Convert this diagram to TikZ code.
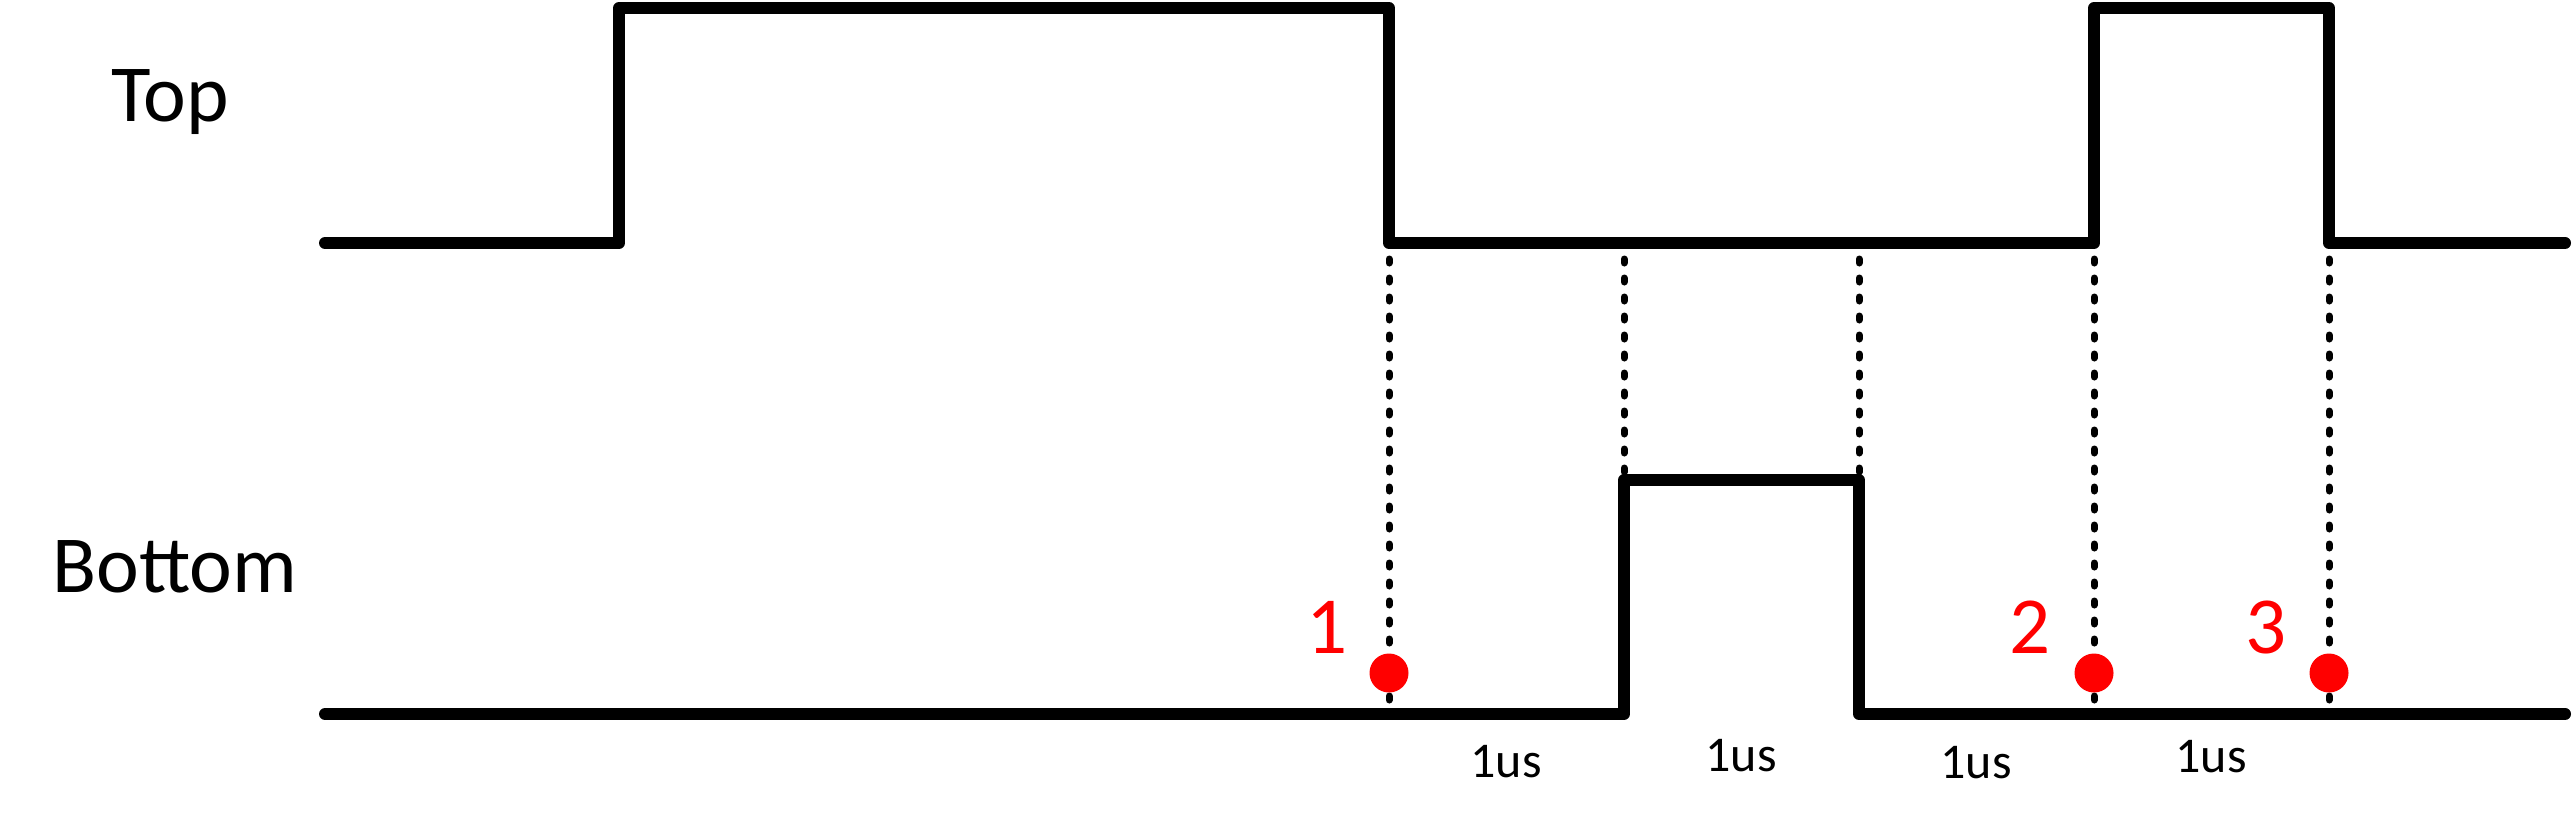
\documentclass[tikz,border=0pt]{standalone}
\usepackage{fontspec}
\setmainfont{Carlito}
\begin{document}
\begin{tikzpicture}[x=0.5pt,y=-0.5pt,
  wave/.style={line width=6pt, line join=round, line cap=round},
  guide/.style={line width=3.5pt, dash pattern=on 2pt off 7.5pt, line cap=round},
  sig/.style={anchor=base west, inner sep=0pt, font=\fontsize{40.5}{48}\selectfont},
  num/.style={anchor=base, inner sep=0pt, text=red, font=\fontsize{40.5}{48}\selectfont},
  dur/.style={anchor=base, inner sep=0pt, font=\fontsize{25}{30}\selectfont},
  mark dot/.style={circle, fill=red, inner sep=0pt, minimum size=19.5pt}
]
\useasboundingbox (0,0) rectangle (2575,819);
% labels
\node[sig] (top) at (111,121) {Top};
\node[sig] (bottom) at (52,592) {Bottom};
% top waveform
\coordinate (t0) at (325,243);
\coordinate (t1) at (1389,243);
\coordinate (t2) at (1624,243);
\coordinate (t3) at (1859,243);
\coordinate (t4) at (2094,243);
\coordinate (t5) at (2329,243);
\coordinate (t6) at (2565,243);
\draw[wave] (t0) -- (619,243) -- (619,8) -- (1389,8) -- (t1) -- (t2) -- (t3) -- (t4) -- (2094,8) -- (2329,8) -- (t5) -- (t6);
% bottom waveform
\coordinate (b0) at (325,714);
\coordinate (b1) at (1389,714);
\coordinate (b2) at (1624,714);
\coordinate (b3) at (1859,714);
\coordinate (b4) at (2094,714);
\coordinate (b5) at (2329,714);
\coordinate (b6) at (2565,714);
\draw[wave] (b0) -- (b1) -- (b2) -- (1624,480) -- (1859,480) -- (b3) -- (b4) -- (b5) -- (b6);
% guides
\foreach \i in {1,...,5} \draw[guide] ([yshift=-8pt]t\i) -- (b\i);
% markers
\node[mark dot] (d1) at (1389,673) {};
\node[mark dot] (d2) at (2094,673) {};
\node[mark dot] (d3) at (2329,673) {};
\node[num] (n1) at (1327,653) {1};
\node[num] (n2) at (2030,653) {2};
\node[num] (n3) at (2266,653) {3};
% durations
\node[dur] (u1) at (1506,777) {1us};
\node[dur] (u2) at (1741,771) {1us};
\node[dur] (u3) at (1976,778) {1us};
\node[dur] (u4) at (2211,772) {1us};
\end{tikzpicture}
\end{document}
